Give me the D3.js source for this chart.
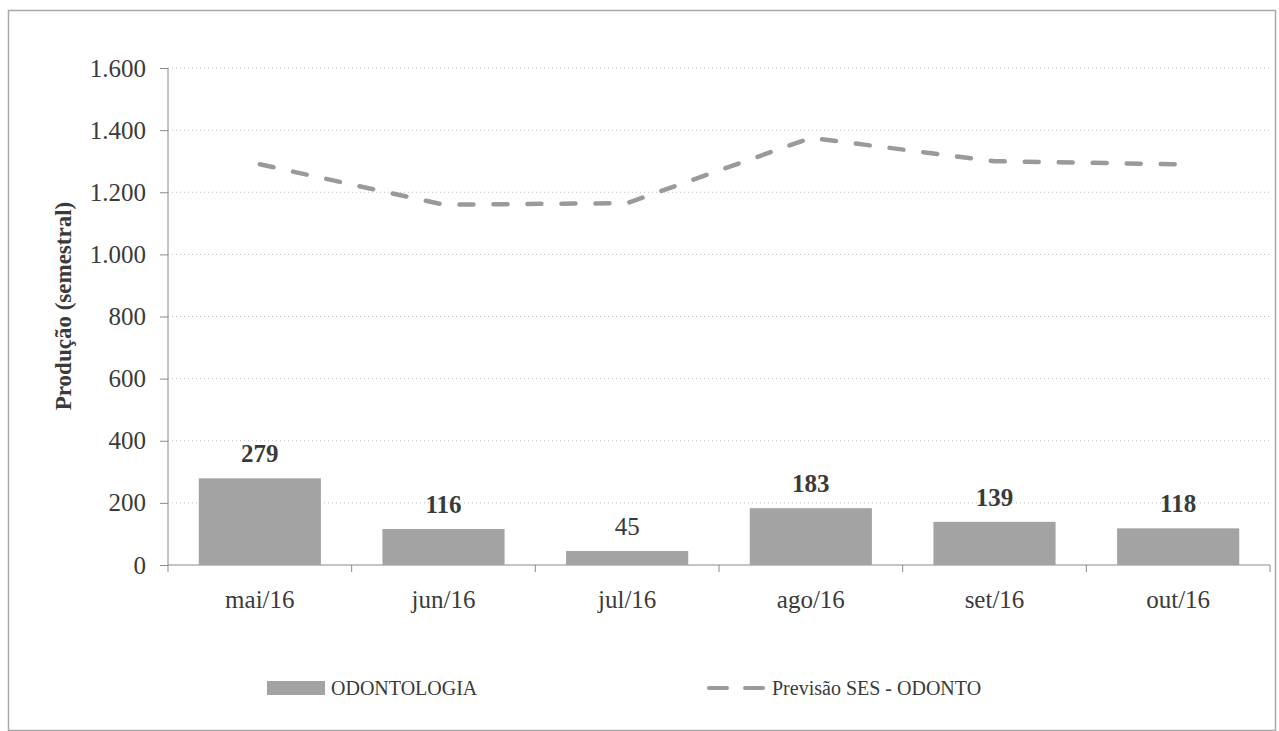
<!DOCTYPE html>
<html>
<head>
<meta charset="utf-8">
<script src="https://cdn.jsdelivr.net/npm/d3@7"></script>
<style>
  body { margin: 0; background: #fff; }
  svg { font-family: "Liberation Serif", "Times New Roman", serif; }
</style>
</head>
<body>
<div id="chart"></div>
<script>
var months = ["mai/16", "jun/16", "jul/16", "ago/16", "set/16", "out/16"];
var odontologia = [279, 116, 45, 183, 139, 118];
var previsao = [1290, 1160, 1165, 1375, 1300, 1290];
var yTicks = [0, 200, 400, 600, 800, 1000, 1200, 1400, 1600];
var yTickLabels = ["0", "200", "400", "600", "800", "1.000", "1.200", "1.400", "1.600"];
var seriesNames = ["ODONTOLOGIA", "Previsão SES - ODONTO"];

var width = 1279, height = 731;
var plotLeft = 168, plotRight = 1270, plotTop = 68, plotBottom = 565;
var barColor = "#a3a3a3", lineColor = "#9a9a9a", textColor = "#3a3a3a";

var svg = d3.select("#chart").append("svg")
  .attr("width", width)
  .attr("height", height);

// frame
svg.append("rect")
  .attr("x", 8.5).attr("y", 10.5)
  .attr("width", 1267).attr("height", 720)
  .attr("fill", "none")
  .attr("stroke", "#a8a8a8")
  .attr("stroke-width", 1.5);

var x = d3.scaleBand().domain(months).range([plotLeft, plotRight]).paddingInner(0.335).paddingOuter(0.1675);
var xOuter = d3.scaleBand().domain(months).range([plotLeft, plotRight]);
var y = d3.scaleLinear().domain([0, 1600]).range([plotBottom, plotTop]);

// gridlines
svg.append("g").selectAll("line")
  .data(yTicks.filter(function(d){ return d > 0; })).enter()
  .append("line")
  .attr("x1", plotLeft).attr("x2", plotRight)
  .attr("y1", function(d){ return y(d); })
  .attr("y2", function(d){ return y(d); })
  .attr("stroke", "#bdbdbd")
  .attr("stroke-width", 1)
  .attr("stroke-dasharray", "1,3");

// y axis
var yAxis = svg.append("g")
  .attr("transform", "translate(" + plotLeft + ",0)")
  .call(d3.axisLeft(y).tickValues(yTicks).tickSize(8).tickPadding(14)
    .tickFormat(function(d, i){ return yTickLabels[i]; }));
yAxis.select(".domain").attr("stroke", "#8a8a8a").attr("d", "M0," + plotTop + "V" + plotBottom);
yAxis.selectAll(".tick line").attr("stroke", "#8a8a8a");
yAxis.selectAll("text")
  .attr("fill", textColor)
  .attr("font-size", "25px")
  .attr("font-family", "Liberation Serif, Times New Roman, serif");

// x axis
var xAxis = svg.append("g")
  .attr("transform", "translate(0," + plotBottom + ")");
xAxis.append("line")
  .attr("x1", plotLeft).attr("x2", plotRight)
  .attr("y1", 0).attr("y2", 0)
  .attr("stroke", "#8a8a8a");
xAxis.selectAll(".xtick")
  .data(months.concat(["end"])).enter()
  .append("line")
  .attr("x1", function(d, i){ return plotLeft + i * xOuter.bandwidth(); })
  .attr("x2", function(d, i){ return plotLeft + i * xOuter.bandwidth(); })
  .attr("y1", 0).attr("y2", 7)
  .attr("stroke", "#8a8a8a");
xAxis.selectAll(".xlabel")
  .data(months).enter()
  .append("text")
  .attr("x", function(d){ return xOuter(d) + xOuter.bandwidth() / 2; })
  .attr("y", 43)
  .attr("text-anchor", "middle")
  .attr("fill", textColor)
  .attr("font-size", "25px")
  .text(function(d){ return d; });

// bars
svg.append("g").selectAll("rect")
  .data(odontologia).enter()
  .append("rect")
  .attr("x", function(d, i){ return x(months[i]); })
  .attr("width", x.bandwidth())
  .attr("y", function(d){ return y(d); })
  .attr("height", function(d){ return plotBottom - y(d); })
  .attr("fill", barColor);

// bar labels
svg.append("g").selectAll("text")
  .data(odontologia).enter()
  .append("text")
  .attr("x", function(d, i){ return x(months[i]) + x.bandwidth() / 2; })
  .attr("y", function(d){ return y(d) - 16; })
  .attr("text-anchor", "middle")
  .attr("fill", textColor)
  .attr("font-size", "25px")
  .attr("font-weight", function(d){ return d === 45 ? "normal" : "bold"; })
  .text(function(d){ return d; });

// forecast line
var line = d3.line()
  .x(function(d, i){ return xOuter(months[i]) + xOuter.bandwidth() / 2; })
  .y(function(d){ return y(d); });
svg.append("path")
  .datum(previsao)
  .attr("d", line)
  .attr("fill", "none")
  .attr("stroke", lineColor)
  .attr("stroke-width", 4.5)
  .attr("stroke-linecap", "round")
  .attr("stroke-dasharray", "14,20");

// legend
var legend = svg.append("g").attr("transform", "translate(0,695)");
legend.append("rect")
  .attr("x", 267).attr("y", -14)
  .attr("width", 58).attr("height", 14)
  .attr("fill", barColor);
legend.append("text")
  .attr("x", 331).attr("y", 0)
  .attr("fill", textColor)
  .attr("font-size", "20px")
  .text(seriesNames[0]);
legend.append("line")
  .attr("x1", 709).attr("x2", 763)
  .attr("y1", -7).attr("y2", -7)
  .attr("stroke", lineColor)
  .attr("stroke-width", 4)
  .attr("stroke-linecap", "round")
  .attr("stroke-dasharray", "18,18");
legend.append("text")
  .attr("x", 772).attr("y", 0)
  .attr("fill", textColor)
  .attr("font-size", "20px")
  .text(seriesNames[1]);

// y title
svg.append("text")
  .attr("transform", "translate(71,306) rotate(-90)")
  .attr("text-anchor", "middle")
  .attr("fill", textColor)
  .attr("font-size", "23px")
  .attr("font-weight", "bold")
  .text("Produção (semestral)");
</script>
</body>
</html>
